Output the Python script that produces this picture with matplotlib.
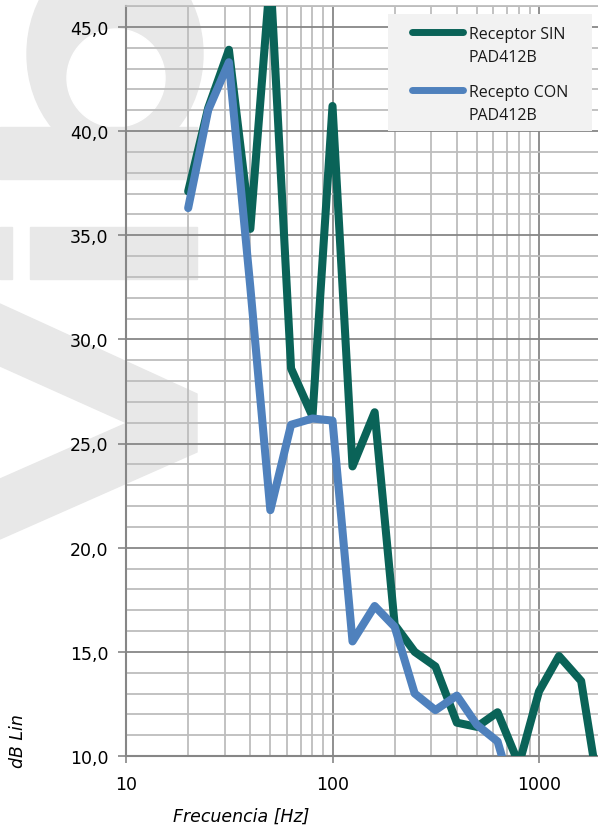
import matplotlib
matplotlib.use('Agg')
import matplotlib.pyplot as plt
from matplotlib.patches import Ellipse, Rectangle, Polygon
from matplotlib.lines import Line2D
from matplotlib.ticker import LogLocator, MultipleLocator, FuncFormatter, NullFormatter
import numpy as np

# third-octave bands (Hz) and levels (dB Lin)
freqs = [20, 25, 31.5, 40, 50, 63, 80, 100, 125, 160, 200, 250, 315, 400,
         500, 630, 800, 1000, 1250, 1600, 2000]
sin_pad = [37.1, 41.1, 43.9, 35.3, 47.5, 28.6, 26.3, 41.2, 23.9, 26.5, 16.3,
           15.0, 14.3, 11.6, 11.4, 12.1, 9.6, 13.1, 14.8, 13.6, 7.6]
con_pad = [36.3, 41.0, 43.3, 32.5, 21.8, 25.9, 26.2, 26.1, 15.5, 17.2, 16.2,
           13.0, 12.2, 12.9, 11.5, 10.7, 7.2, np.nan, np.nan, np.nan, np.nan]

labels = [["Receptor SIN", "PAD412B"], ["Recepto CON", "PAD412B"]]
yticks = [10, 15, 20, 25, 30, 35, 40, 45]

green = '#0a6358'
blue = '#4f81bd'
W, H = 598, 828

fig = plt.figure(figsize=(W / 100, H / 100), dpi=100)

# pixel coords (from top-left) -> figure fraction
def fp(x, y):
    return (x / W, 1 - y / H)

# light grey watermark behind the chart
wm = '#e8e8e8'
deco = [
    Ellipse(fp(115, 55), 176 / W, 210 / H, color=wm),
    Ellipse(fp(116, 79), 98 / W, 98 / H, color='white'),
    Rectangle(fp(0, 180), 197 / W, 52 / H, color=wm),
    Rectangle(fp(0, 280), 12 / W, 52 / H, color=wm),
    Rectangle(fp(30, 280), 167 / W, 52 / H, color=wm),
    Polygon([fp(0, 305), fp(197, 395), fp(197, 453), fp(0, 540),
             fp(0, 480), fp(127, 424), fp(0, 367)], closed=True, color=wm),
]
for p in deco:
    p.set_transform(fig.transFigure)
    p.set_zorder(0)
    fig.patches.append(p)

ax = fig.add_axes([126 / W, 1 - 757 / H, (W - 126) / W, 750 / H])
ax.patch.set_alpha(0)
ax.set_zorder(1)

ax.plot(freqs, sin_pad, color=green, lw=5.8, solid_joinstyle='round',
        solid_capstyle='round', zorder=3)
ax.plot(freqs, con_pad, color=blue, lw=5.8, solid_joinstyle='round',
        solid_capstyle='round', zorder=3)

ax.set_xscale('log')
ax.set_xlim(10, 10 ** (1 + (W - 126) / 206.5))
ax.set_ylim(10, 46)

ax.xaxis.set_major_locator(LogLocator(base=10))
ax.xaxis.set_minor_locator(LogLocator(base=10, subs=np.arange(2, 10)))
ax.xaxis.set_minor_formatter(NullFormatter())
ax.xaxis.set_major_formatter(FuncFormatter(lambda v, p: f"{v:g}"))
ax.set_yticks(yticks)
ax.yaxis.set_minor_locator(MultipleLocator(1))
ax.yaxis.set_major_formatter(FuncFormatter(lambda v, p: f"{v:.1f}".replace('.', ',')))

ax.grid(which='minor', color='#bdbdbd', lw=1.3, zorder=1)
ax.grid(which='major', color='#878787', lw=1.3, zorder=1)
ax.set_axisbelow(True)

ax.spines['right'].set_visible(False)
ax.spines['top'].set_color('#bdbdbd')
ax.spines['top'].set_linewidth(1.3)
for s in ['left', 'bottom']:
    ax.spines[s].set_color('#868686')
    ax.spines[s].set_linewidth(1.5)

ax.tick_params(which='major', axis='y', length=5.5, width=1.2, color='#868686',
               pad=7, labelsize=12.5)
ax.tick_params(which='major', axis='x', length=5, width=1.2, color='#868686',
               pad=9, labelsize=12.5)
ax.tick_params(which='minor', length=0)

# legend box drawn by hand (Excel-style, handle on the first text line)
box = Rectangle(fp(388, 132), 204 / W, 117 / H, transform=fig.transFigure,
                facecolor='#f2f2f2', edgecolor='none', zorder=5)
fig.add_artist(box)
for i, (col, lab) in enumerate(zip([green, blue], labels)):
    y0 = 33 + i * 58
    ln = Line2D([412 / W, 463 / W], [1 - y0 / H, 1 - y0 / H], color=col, lw=5,
                solid_capstyle='round', transform=fig.transFigure, zorder=6)
    fig.add_artist(ln)
    for j, t in enumerate(lab):
        fig.text(469 / W, 1 - (39 + i * 58 + j * 23) / H, t, family='Open Sans',
                 fontsize=11.5, ha='left', va='baseline', color='#1a1a1a', zorder=7)

fig.text(241 / W, 1 - 822 / H, "Frecuencia [Hz]", fontsize=12.5, style='italic',
         ha='center', va='baseline')
fig.text(18 / W, 1 - 741 / H, "dB Lin", fontsize=12.5, style='italic',
         rotation=90, ha='center', va='center')

fig.savefig('out.png', dpi=100)
